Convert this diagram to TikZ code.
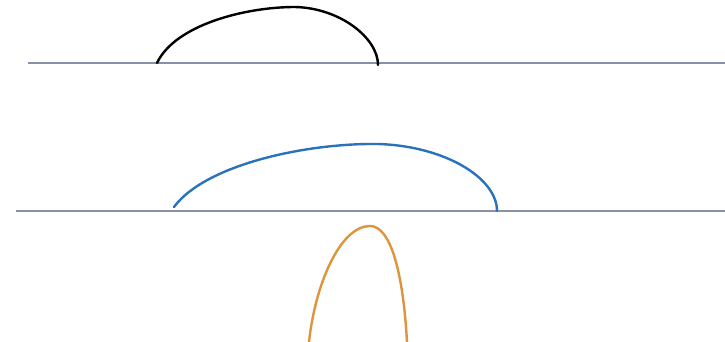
\documentclass[tikz,border=0pt]{standalone}
\begin{document}
\begin{tikzpicture}[x=1pt,y=-1pt,
  base/.style={draw={rgb,255:red,135;green,145;blue,168},line width=2pt},
  arc/.style={line width=2.4pt,line cap=round}]
\definecolor{arcblue}{RGB}{40,115,185}
\definecolor{arcorange}{RGB}{222,148,60}
\useasboundingbox (0,0) rectangle (725,342);
\coordinate (l1a) at (28,63);
\coordinate (l1b) at (725,63);
\coordinate (l2a) at (16,211);
\coordinate (l2b) at (725,211);
\draw[base] (l1a) -- (l1b);
\draw[base] (l2a) -- (l2b);
\coordinate (b1) at (157,63);
\coordinate (b2) at (295,7);
\coordinate (b3) at (378,65);
\draw[arc,black] (b1) .. controls (175,25) and (245,7) .. (b2) .. controls (340,8) and (378,38) .. (b3);
\coordinate (c1) at (174,207);
\coordinate (c2) at (378,144);
\coordinate (c3) at (497,211);
\draw[arc,arcblue] (c1) .. controls (205,165) and (305,143) .. (c2) .. controls (445,146) and (497,178) .. (c3);
\coordinate (o1) at (309,342);
\coordinate (o2) at (370,226);
\coordinate (o3) at (407,342);
\draw[arc,arcorange] (o1) .. controls (315,285) and (340,226) .. (o2) .. controls (390,226) and (403,270) .. (o3);
\end{tikzpicture}
\end{document}
